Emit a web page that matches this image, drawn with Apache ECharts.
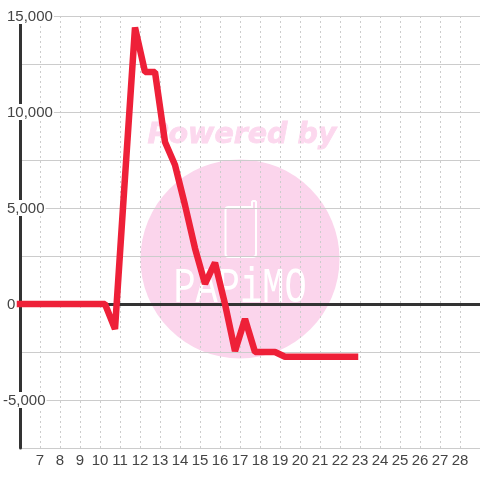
<!DOCTYPE html>
<html><head><meta charset="utf-8">
<style>html,body{margin:0;padding:0;background:#fff}#c{width:480px;height:480px}</style>
<script src="https://cdn.jsdelivr.net/npm/echarts@6/dist/echarts.min.js"></script>
</head><body><div id="c"></div>
<script>
const hours = [6,6.5,7,7.5,8,8.5,9,9.5,10,10.25,10.75,11.25,11.75,12.25,12.75,13.25,13.75,14.25,14.75,15.25,15.75,16.25,16.75,17.25,17.75,18.25,18.75,19.25,19.75,20.25,20.75,21.25,21.75,22.25,22.75];
const values = [0,0,0,0,0,0,0,0,0,0,-1300,6600,14400,12080,12080,8440,7240,5150,2900,1050,2150,0,-2450,-780,-2500,-2500,-2500,-2750,-2750,-2750,-2750,-2750,-2750,-2750,-2750];
const xTickMin = 6, xTickMax = 29;
const yTickMin = -7500, yTickMax = 15000, yTickStep = 2500;
const watermarkTop = 'Powered by';
const watermarkBrand = 'PAPiMO';

const chart = echarts.init(document.getElementById('c'), null, {renderer:'canvas'});
const font = '"Liberation Sans"';
const pink = '#fbd5ec';
chart.setOption({
  animation:false,
  backgroundColor:'#fff',
  grid:{left:20,right:0,top:16,bottom:32,containLabel:false},
  graphic:[
    {type:'circle',z:-10,silent:true,shape:{cx:240,cy:259,r:99.5},style:{fill:pink}},
    {type:'text',z:-9,silent:true,x:242,y:136,style:{text:watermarkTop,fill:'#fcd8ee',stroke:'#fcd8ee',lineWidth:0.8,font:'italic bold 28.5px "DejaVu Sans"',textAlign:'center',textVerticalAlign:'middle'}},
    {type:'rect',z:-9,silent:true,shape:{x:225.5,y:207,width:30.5,height:50,r:3},style:{fill:'none',stroke:'#fff',lineWidth:2}},
    {type:'rect',z:-8,silent:true,shape:{x:252,y:204,width:3,height:6},style:{fill:pink}},
    {type:'polyline',z:-8,silent:true,shape:{points:[[252,208],[252,202],[253,201],[255,201],[256,202],[256,208]]},style:{fill:'none',stroke:'#fff',lineWidth:2}},
    {type:'text',z:-9,silent:true,x:240,y:289,scaleY:1.35,style:{text:watermarkBrand,fill:'#fff',font:'37px "Liberation Mono"',textAlign:'center',textVerticalAlign:'middle'}}
  ],
  xAxis:[
    {type:'value',min:xTickMin,max:xTickMax,interval:1,position:'bottom',
     axisLine:{show:true,onZero:true,lineStyle:{color:'#333',width:3}},
     axisTick:{show:false},axisLabel:{show:false},splitLine:{show:false}},
    {type:'value',min:xTickMin,max:xTickMax,interval:1,position:'bottom',
     axisLine:{show:false,onZero:false},axisTick:{show:false},
     splitLine:{show:true,lineStyle:{color:'#ccc',width:1,type:[2,3]}},
     axisLabel:{color:'#444',fontFamily:font,fontSize:15,margin:5,showMinLabel:false,showMaxLabel:false,
       formatter:v=>String(v)}}
  ],
  yAxis:{type:'value',min:yTickMin,max:yTickMax,interval:yTickStep,position:'left',
    axisLine:{show:true,onZero:false,lineStyle:{color:'#333',width:3}},
    axisTick:{show:false},
    splitLine:{show:true,lineStyle:{color:'#ccc',width:1}},
    axisLabel:{inside:true,align:'left',margin:-17,fontFamily:font,fontSize:15,color:'#444',
      showMinLabel:false,showMaxLabel:true,
      formatter:v=>{
        if(v%5000!==0) return '';
        const s=v.toLocaleString('en-US');
        return v<0?'{n|'+s+'}':'{p|'+s+'}';
      },
      rich:{
        p:{fontFamily:font,fontSize:15,color:'#444',backgroundColor:'#fff',height:14,lineHeight:14,padding:[2,1,0,4]},
        n:{fontFamily:font,fontSize:15,color:'#444',backgroundColor:'#fff',height:14,lineHeight:14,padding:[2,1,0,0]}
      }}},
  series:[
    {type:'line',data:hours.map((h,i)=>[h,values[i]]),symbol:'none',clip:false,z:5,
     lineStyle:{color:'#ee2038',width:6.5,cap:'square',join:'bevel'}}
  ]
});
</script></body></html>
